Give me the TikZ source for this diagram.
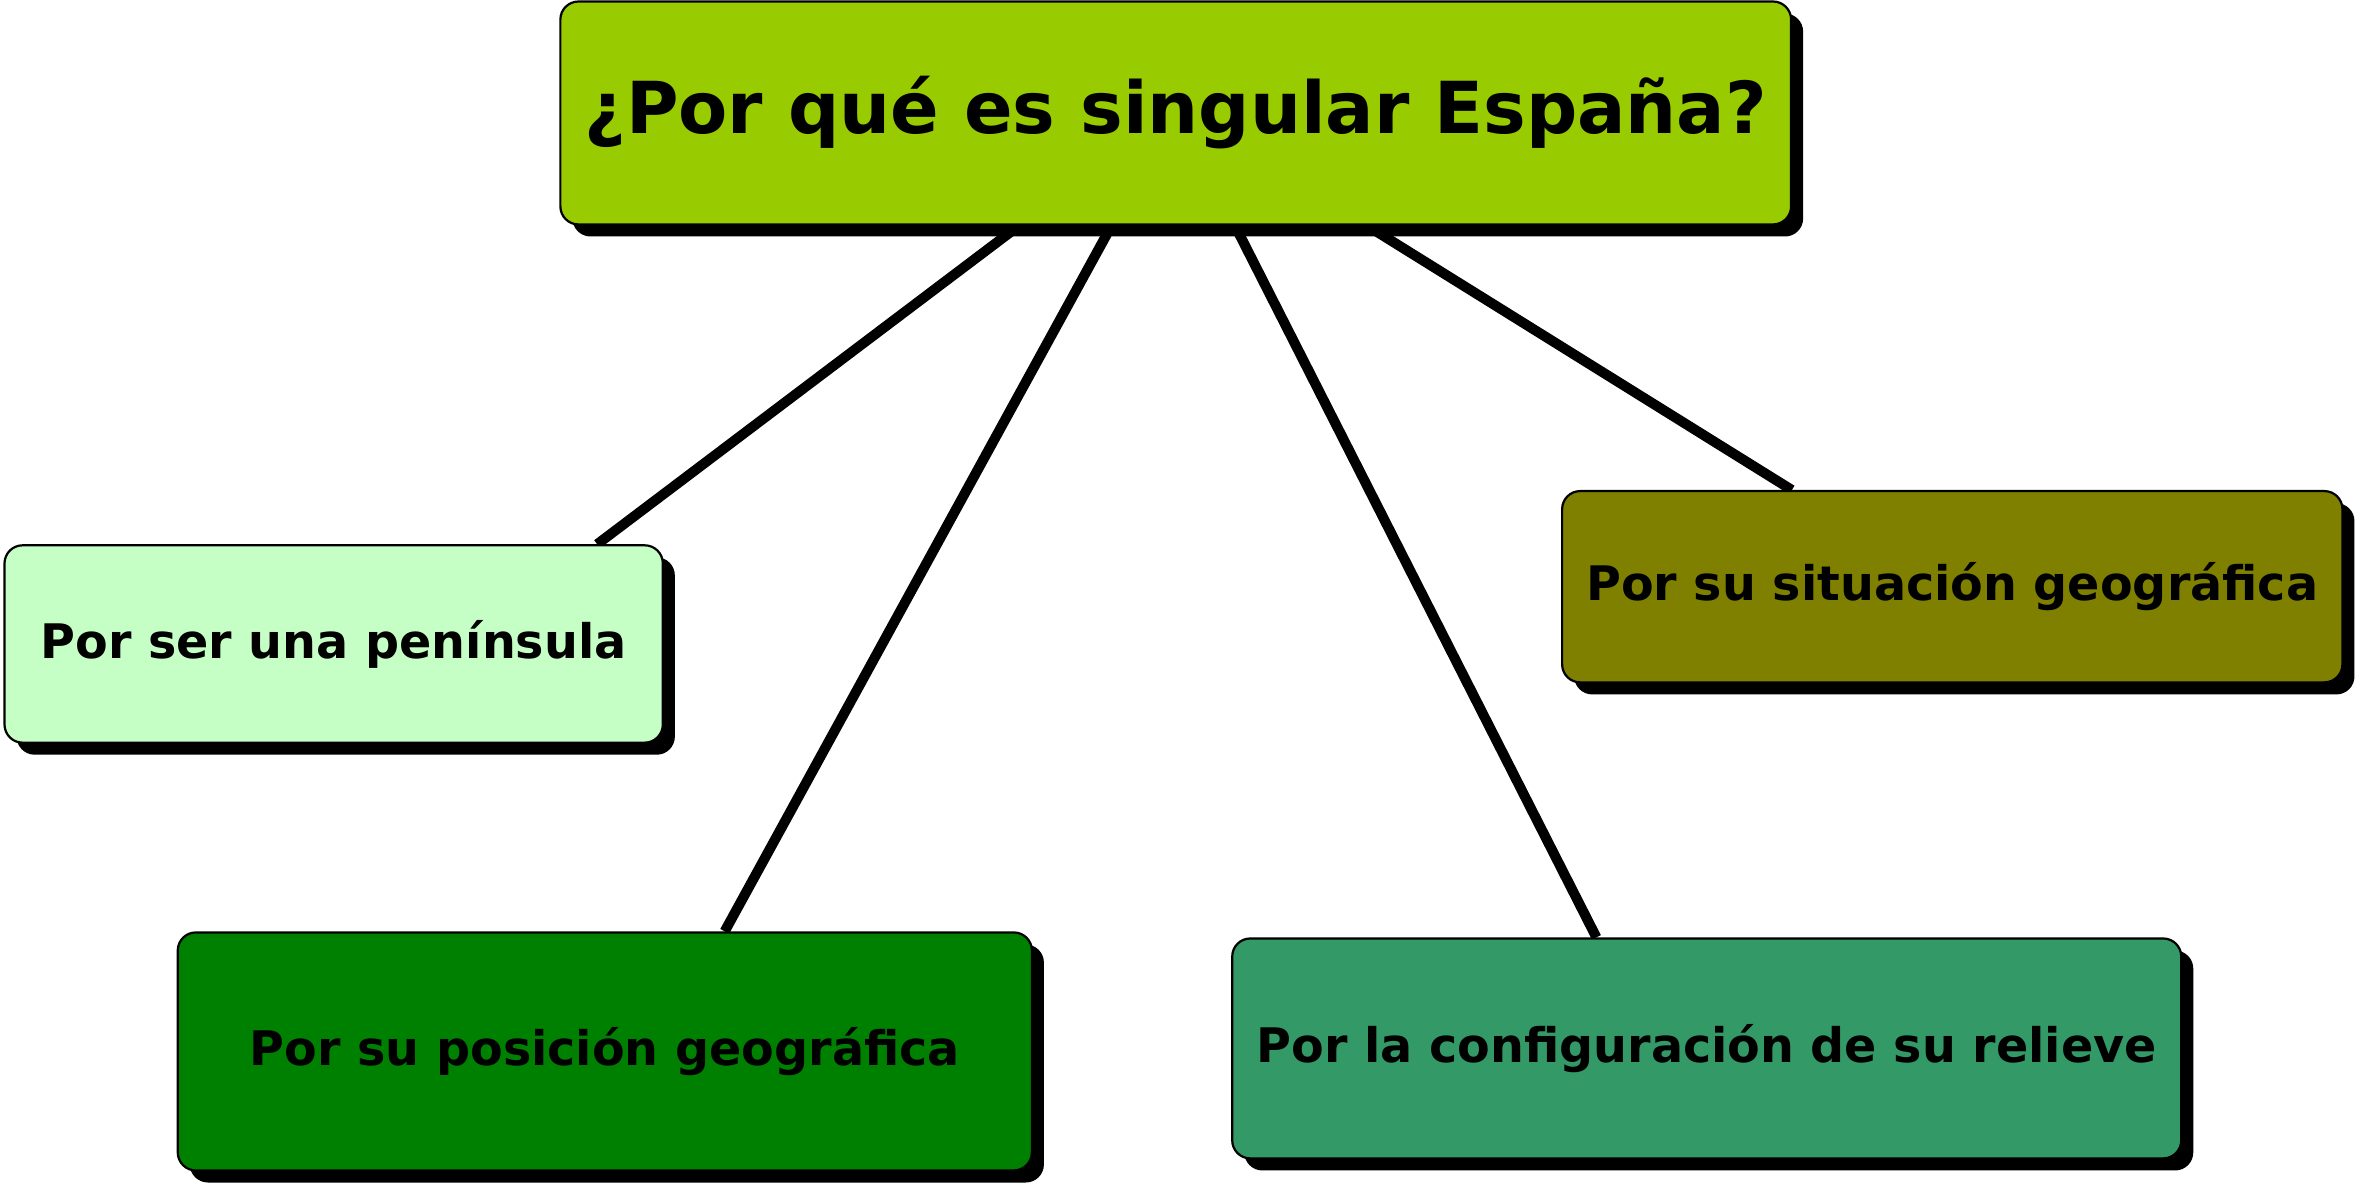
\documentclass[tikz,border=0pt]{standalone}
\usepackage{fontspec}
\setmainfont{DejaVu Sans}
\usetikzlibrary{shadows,backgrounds,calc}
\definecolor{rootc}{HTML}{99CC00}
\definecolor{pen}{HTML}{C6FFC6}
\definecolor{olivec}{HTML}{808000}
\definecolor{greenc}{HTML}{008000}
\definecolor{seac}{HTML}{339966}
\tikzset{
  box/.style={draw=black, line width=1.1pt, rounded corners=9pt, inner sep=0pt,
    font=\bfseries, text=black,
    drop shadow={shadow xshift=6pt, shadow yshift=-6pt, fill=black, opacity=1}},
  childfont/.style={font=\bfseries\fontsize{23.7}{28}\selectfont},
  link/.style={line width=5pt, draw=black}
}
\begin{document}
\begin{tikzpicture}[x=0.75pt,y=-0.75pt]
\useasboundingbox (0,0) rectangle (1568,793.3);
\node[box, fill=rootc, minimum width=612.75pt, minimum height=111pt, font=\bfseries\fontsize{35.7}{42}\selectfont] (root) at (780.5,75) {¿Por qué es singular España?};
\node[box, fill=pen, minimum width=327.75pt, minimum height=98.25pt, childfont] (c1) at (221.5,427.5) {Por ser una península};
\node[box, fill=olivec, minimum width=388.5pt, minimum height=95.25pt, childfont] (c4) at (1296,389.5) {Por su situación geográfica};
\node[box, fill=greenc, minimum width=425.25pt, minimum height=118.5pt, childfont] (c2) at (401.5,698) {Por su posición geográfica};
\node[box, fill=seac, minimum width=472.5pt, minimum height=109.5pt, childfont] (c3) at (1133,696) {Por la configuración de su relieve};
\begin{scope}[on background layer]
\draw[link] ($(root.south west)!0.373!(root.south east)$) -- ($(c1.north west)!0.899!(c1.north east)$);
\draw[link] ($(root.south west)!0.448!(root.south east)$) -- ($(c2.north west)!0.640!(c2.north east)$);
\draw[link] ($(root.south west)!0.548!(root.south east)$) -- ($(c3.north west)!0.384!(c3.north east)$);
\draw[link] ($(root.south west)!0.655!(root.south east)$) -- ($(c4.north west)!0.295!(c4.north east)$);
\end{scope}
\end{tikzpicture}
\end{document}
